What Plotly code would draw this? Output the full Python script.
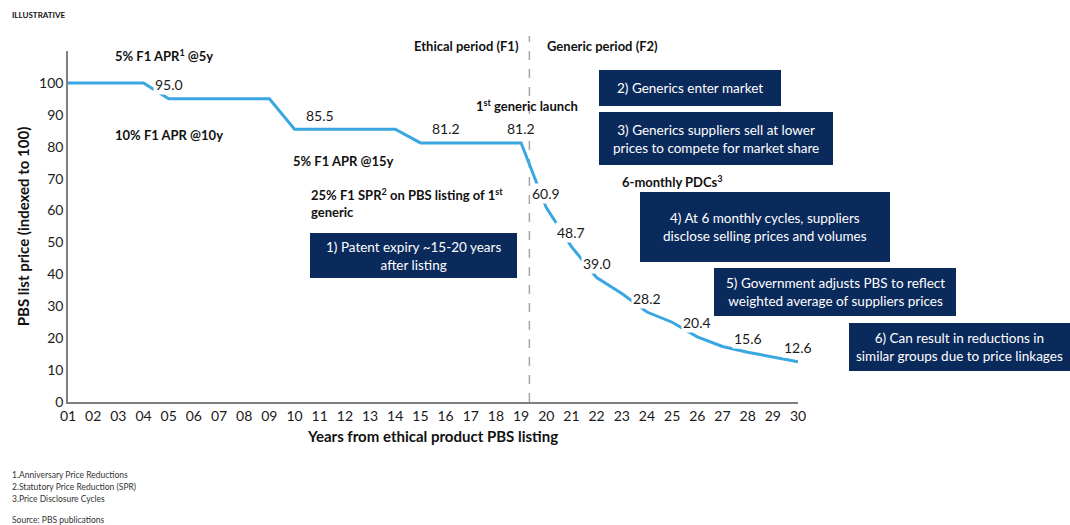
import plotly.graph_objects as go

# Yearly PBS list price index (year 1 = 100)
years = list(range(1, 31))
tick_labels = [f"{y:02d}" for y in years]
price_index = [100, 100, 100, 100, 95.0, 95.0, 95.0, 95.0, 95.0, 85.5,
               85.5, 85.5, 85.5, 85.5, 81.2, 81.2, 81.2, 81.2, 81.2, 60.9,
               48.7, 39.0, 34.0, 28.2, 25.0, 20.4, 17.4, 15.6, 14.2, 12.6]
# Years whose value is printed on the chart
labelled_years = [5, 11, 16, 19, 20, 21, 22, 24, 26, 28, 30]
generic_launch_year = 19.33

FONT = "Lato"
NAVY = "#0B2A5C"
LINE_BLUE = "#3AA6E2"
AXIS_GREY = "#7F7F7F"

# Plot area in pixels
L, R, T, B = 68, 798, 51, 402
W, H = 1070, 525


def px(x):
    return (x - L) / (R - L)


def py(y):
    return (B - y) / (B - T)


fig = go.Figure()
fig.add_trace(go.Scatter(
    x=years, y=price_index, mode="lines",
    line=dict(color=LINE_BLUE, width=3),
    hoverinfo="x+y", showlegend=False,
))

annotations = []

# Value labels sitting on the line with a white backing
for yr in labelled_years:
    v = price_index[yr - 1]
    annotations.append(dict(
        x=yr, y=v, xref="x", yref="y", text=f"{v:.1f}", showarrow=False,
        yshift=14, bgcolor="white", borderpad=1,
        font=dict(family=FONT, size=14, color="#1a1a1a"),
    ))

# Bold call-outs
bold_notes = [
    (113, 56, "5% F1 APR<sup>1</sup> @5y", "left"),
    (113, 135, "10% F1 APR @10y", "left"),
    (291, 161, "5% F1 APR @15y", "left"),
    (309, 203, "25% F1 SPR<sup>2</sup> on PBS listing of 1<sup>st</sup><br>generic", "left"),
    (474, 105, "1<sup>st</sup> generic launch", "left"),
    (412, 46, "Ethical period (F1)", "left"),
    (545, 46, "Generic period (F2)", "left"),
    (620, 181, "6-monthly PDCs<sup>3</sup>", "left"),
]
for x, y, txt, anchor in bold_notes:
    annotations.append(dict(
        x=px(x), y=py(y), xref="paper", yref="paper", text=f"<b>{txt}</b>",
        showarrow=False, xanchor=anchor, yanchor="middle", align="left",
        font=dict(family=FONT, size=13, color="#111111"),
    ))

# Navy step boxes
boxes = [
    (310, 233, 517, 278, "1) Patent expiry ~15-20 years<br>after listing"),
    (599, 70, 781, 106, "2) Generics enter market"),
    (599, 112, 833, 165, "3) Generics suppliers sell at lower<br>prices to compete for market share"),
    (640, 192, 890, 262, "4) At 6 monthly cycles, suppliers<br>disclose selling prices and volumes"),
    (714, 268, 956, 316, "5) Government adjusts PBS to reflect<br>weighted average of suppliers prices"),
    (849, 323, 1070, 371, "6) Can result in reductions in<br>similar groups due to price linkages"),
]
shapes = []
for x0, y0, x1, y1, txt in boxes:
    shapes.append(dict(
        type="rect", xref="paper", yref="paper",
        x0=px(x0), x1=px(x1), y0=py(y1), y1=py(y0),
        fillcolor=NAVY, line=dict(width=0), layer="above",
    ))
    annotations.append(dict(
        x=px((x0 + x1) / 2), y=py((y0 + y1) / 2), xref="paper", yref="paper",
        text=txt, showarrow=False, xanchor="center", yanchor="middle",
        align="center", font=dict(family=FONT, size=13.5, color="white"),
    ))

# Dashed divider between ethical and generic periods
shapes.append(dict(
    type="line", xref="x", yref="paper",
    x0=generic_launch_year, x1=generic_launch_year, y0=0, y1=py(36),
    line=dict(color="#A6A6A6", width=1.5, dash="dash"), layer="below",
))

# Header and footnotes
page_notes = [
    (15, "<b>ILLUSTRATIVE</b>", 8, "#111111"),
    (475, "1.Anniversary Price Reductions", 8.5, "#333333"),
    (487, "2.Statutory Price Reduction (SPR)", 8.5, "#333333"),
    (499, "3.Price Disclosure Cycles", 8.5, "#333333"),
    (520, "Source: PBS publications", 8.5, "#333333"),
]
for y, txt, size, col in page_notes:
    annotations.append(dict(
        x=px(10), y=py(y), xref="paper", yref="paper",
        text=txt, showarrow=False, xanchor="left", yanchor="middle",
        font=dict(family=FONT, size=size, color=col),
    ))

fig.update_layout(
    width=W, height=H,
    margin=dict(l=L, r=W - R, t=T, b=H - B),
    plot_bgcolor="white", paper_bgcolor="white",
    font=dict(family=FONT, color="#1a1a1a"),
    shapes=shapes, annotations=annotations,
    xaxis=dict(
        range=[1, 30], tickvals=years, ticktext=tick_labels,
        showgrid=False, zeroline=False, showline=True,
        linecolor=AXIS_GREY, linewidth=1.5, ticks="",
        tickfont=dict(family=FONT, size=14, color="#1a1a1a"),
        title=dict(text="<b>Years from ethical product PBS listing</b>",
                   font=dict(family=FONT, size=15, color="#111111"), standoff=9),
    ),
    yaxis=dict(
        range=[0, 110], tickvals=list(range(0, 101, 10)),
        showgrid=False, zeroline=False, showline=True,
        linecolor=AXIS_GREY, linewidth=1.5, ticks="",
        tickfont=dict(family=FONT, size=14, color="#1a1a1a"),
        title=dict(text="<b>PBS list price (indexed to 100)</b>",
                   font=dict(family=FONT, size=15, color="#111111"), standoff=6),
    ),
)

fig.write_html("out.html")
